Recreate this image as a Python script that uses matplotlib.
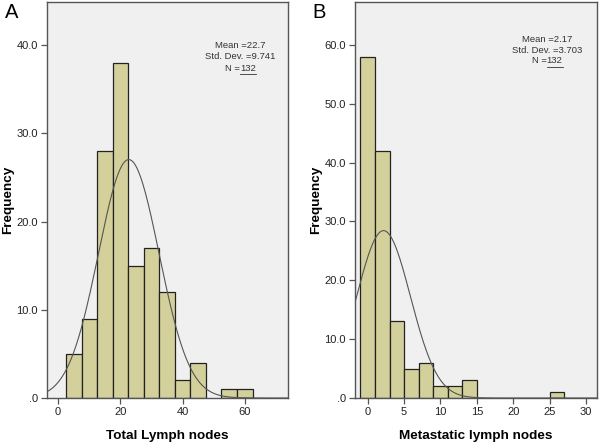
import numpy as np
import matplotlib
matplotlib.use("Agg")
import matplotlib.pyplot as plt

plt.rcParams['font.family'] = ['Liberation Sans', 'DejaVu Sans']

# Panel A: Total lymph nodes
a_edges = [2.5, 7.5, 12.5, 17.5, 22.5, 27.5, 32.5, 37.5, 42.5, 47.5, 52.5, 57.5, 62.5]
a_counts = [5, 9, 28, 38, 15, 17, 12, 2, 4, 0, 1, 1]
a_mean, a_std, a_n = 22.7, 9.741, 132
a_xticks = [0, 20, 40, 60]
a_yticks = [0, 10, 20, 30, 40]

# Panel B: Metastatic lymph nodes
b_edges = [-1, 1, 3, 5, 7, 9, 11, 13, 15, 17, 19, 21, 23, 25, 27]
b_counts = [58, 42, 13, 5, 6, 2, 2, 3, 0, 0, 0, 0, 0, 1]
b_mean, b_std, b_n = 2.17, 3.703, 132
b_xticks = [0, 5, 10, 15, 20, 25, 30]
b_yticks = [0, 10, 20, 30, 40, 50, 60]

BAR = '#D4D09C'
BG = '#F0F0F0'
SPINE = '#555555'

fig = plt.figure(figsize=(6.0, 4.43), dpi=100)
axA = fig.add_axes([0.0783, 0.1016, 0.4017, 0.894])
axB = fig.add_axes([0.5917, 0.1016, 0.403, 0.894])


def ylab(v):
    return '.0' if v == 0 else f'{v:.1f}'


def panel(ax, edges, counts, mean, std, n, xticks, yticks, xlim, ylim, xlabel,
          letter, stats_xy, line_gap, letter_x):
    ax.set_facecolor(BG)
    edges = np.array(edges, dtype=float)
    counts = np.array(counts, dtype=float)
    widths = np.diff(edges)
    mask = counts > 0
    ax.bar(edges[:-1][mask], counts[mask], width=widths[mask], align='edge',
           color=BAR, edgecolor='#222222', linewidth=0.9, zorder=2)
    bw = widths[0]
    xs = np.linspace(xlim[0], xlim[1], 400)
    ys = n * bw / (std * np.sqrt(2 * np.pi)) * np.exp(-0.5 * ((xs - mean) / std) ** 2)
    ax.plot(xs, ys, color='#555555', linewidth=0.8, zorder=3)
    ax.set_xlim(*xlim)
    ax.set_ylim(*ylim)
    ax.set_xticks(xticks)
    ax.set_xticklabels([str(t) for t in xticks])
    ax.set_yticks(yticks)
    ax.set_yticklabels([ylab(v) for v in yticks])
    ax.tick_params(direction='out', length=4, width=0.9, color=SPINE,
                   labelsize=8, labelcolor='#222222', pad=2.5)
    for s in ax.spines.values():
        s.set_color(SPINE)
        s.set_linewidth(1.0)
    ax.set_xlabel(xlabel, fontsize=9.7, fontweight='bold', labelpad=9)
    ax.set_ylabel('Frequency', fontsize=9.7, fontweight='bold', labelpad=2)
    sx, sy = stats_xy
    ax.text(sx, sy, f'Mean ={mean}', transform=ax.transAxes, ha='center',
            va='center', fontsize=6.8, color='#333333')
    ax.text(sx, sy - line_gap, f'Std. Dev. ={std}', transform=ax.transAxes,
            ha='center', va='center', fontsize=6.8, color='#333333')
    ax.text(sx, sy - 2 * line_gap, 'N =', transform=ax.transAxes,
            ha='right', va='center', fontsize=6.8, color='#333333')
    t2 = ax.text(sx, sy - 2 * line_gap, f'{n}', transform=ax.transAxes,
                 ha='left', va='center', fontsize=6.8, color='#333333')
    fig.canvas.draw()
    bb = t2.get_window_extent().transformed(ax.transAxes.inverted())
    ax.plot([bb.x0, bb.x1], [bb.y0 - 0.004, bb.y0 - 0.004], transform=ax.transAxes,
            color='#333333', linewidth=0.6, clip_on=False)
    fig.text(letter_x, 0.993, letter, fontsize=14.5, ha='left', va='top')


panel(axA, a_edges, a_counts, a_mean, a_std, a_n, a_xticks, a_yticks,
      (-3.6, 73.9), (0, 44.9), 'Total Lymph nodes', 'A', (0.80, 0.889), 0.028, 0.008)
panel(axB, b_edges, b_counts, b_mean, b_std, b_n, b_xticks, b_yticks,
      (-1.75, 31.5), (0, 67.3), 'Metastatic lymph nodes', 'B', (0.793, 0.905), 0.027, 0.52)

fig.savefig('out.png', dpi=100)
